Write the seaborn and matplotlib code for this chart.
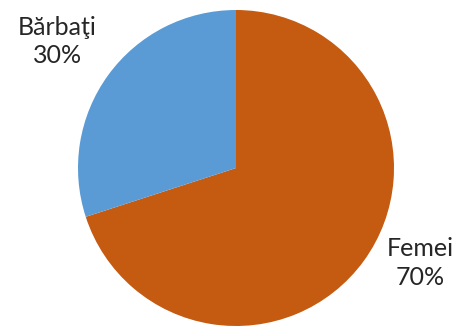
import matplotlib
matplotlib.use("Agg")
import matplotlib.pyplot as plt
import seaborn as sns

categories = ["Femei", "Bărbaţi"]
shares = [70, 30]
colors = ["#C55A11", "#5B9BD5"]

sns.set_theme(style="white")
plt.rcParams["font.family"] = ["Lato", "DejaVu Sans"]

W, H = 455, 327
fig = plt.figure(figsize=(W / 100, H / 100), dpi=100)
cx, cy, r = 236, 168, 158
ax = fig.add_axes([(cx - r) / W, (H - cy - r) / H, 2 * r / W, 2 * r / H])

wedges, _ = ax.pie(shares, colors=sns.color_palette(colors), startangle=90,
                   counterclock=False, radius=1.0,
                   wedgeprops=dict(linewidth=0))
ax.set_xlim(-1, 1)
ax.set_ylim(-1, 1)
ax.set_aspect("equal")
ax.axis("off")

label_pos = {"Femei": (1.165, -0.60), "Bărbaţi": (-1.13, 0.80)}
for cat, val in zip(categories, shares):
    x, y = label_pos[cat]
    ax.text(x, y, f"{cat}\n{val}%", ha="center", va="center", fontsize=18,
            color="#262626", linespacing=1.3, clip_on=False)

fig.savefig("out.png", dpi=100)
